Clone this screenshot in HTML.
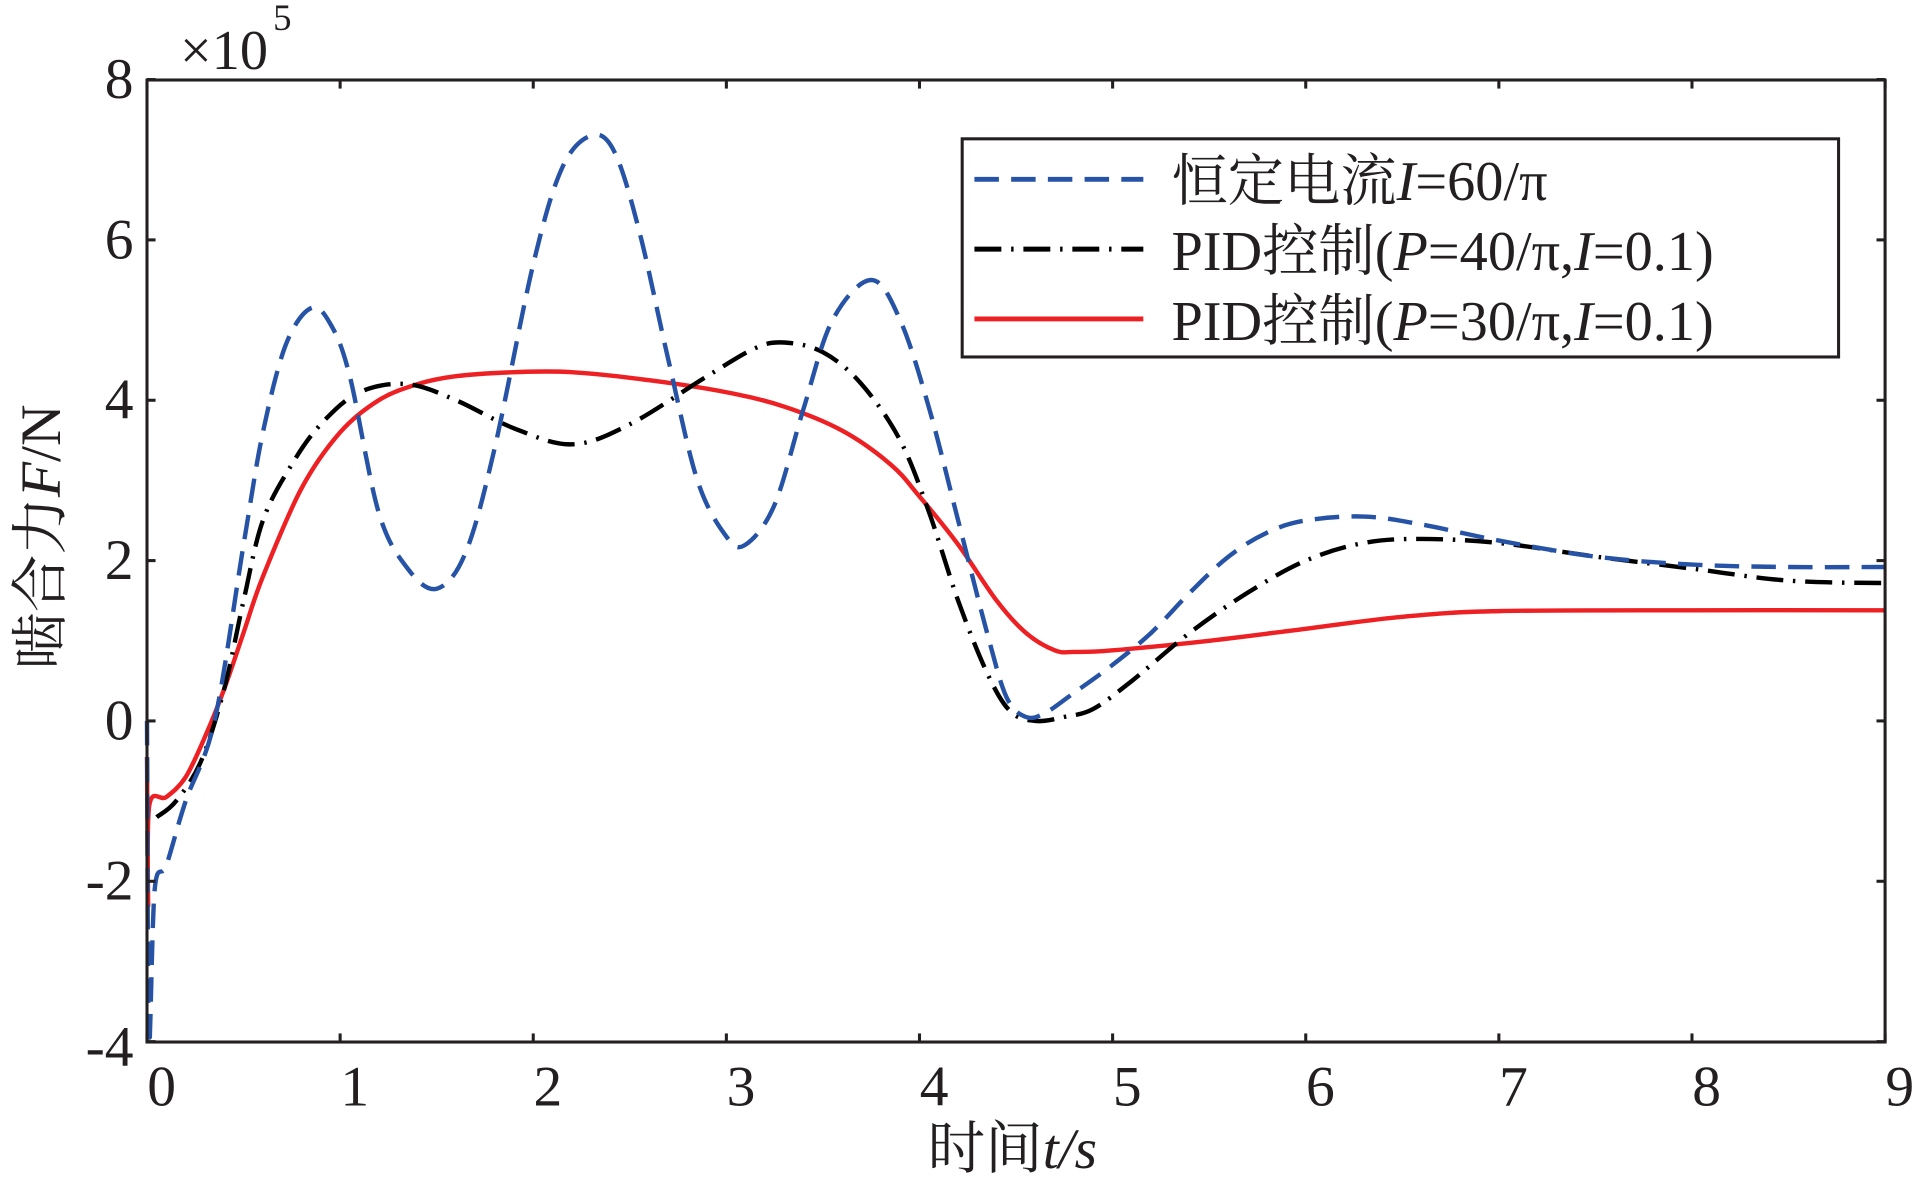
<!DOCTYPE html>
<html><head><meta charset="utf-8">
<style>
html,body{margin:0;padding:0;background:#fff;}
svg{display:block;}
text{font-family:"Liberation Serif","Noto Serif CJK SC",serif;fill:#231f20;}
</style></head>
<body>
<svg id="s" width="1916" height="1188" viewBox="0 0 1916 1188" xmlns="http://www.w3.org/2000/svg">
<g id="g" transform="translate(147,80) scale(1.224,1.2255) translate(-121,-67)">
</g>
</svg>
<script>
const g=document.getElementById('g');
const NS='http://www.w3.org/2000/svg';
function X(t){return 121+t*157.78;}
function Y(v){return 590-v*65.42;}
function el(tag,attrs,txt){const e=document.createElementNS(NS,tag);for(const k in attrs)e.setAttribute(k,attrs[k]);if(txt!==undefined)e.textContent=txt;g.appendChild(e);return e;}
function path(pts){
  const P=pts.map(p=>[X(p[0]),Y(p[1])]);
  let d='M'+P[0][0].toFixed(1)+','+P[0][1].toFixed(1);
  for(let i=0;i<P.length-1;i++){
    const p0=P[Math.max(0,i-1)],p1=P[i],p2=P[i+1],p3=P[Math.min(P.length-1,i+2)];
    const c1=[p1[0]+(p2[0]-p0[0])/6,p1[1]+(p2[1]-p0[1])/6];
    const c2=[p2[0]-(p3[0]-p1[0])/6,p2[1]-(p3[1]-p1[1])/6];
    d+=' C'+c1[0].toFixed(1)+','+c1[1].toFixed(1)+' '+c2[0].toFixed(1)+','+c2[1].toFixed(1)+' '+p2[0].toFixed(1)+','+p2[1].toFixed(1);
  }
  return d;
}
const blue=[[0,0],[0.01,-4],[0.04,-2.1],[0.1,-1.8],[0.2,-1.0],[0.35,0],[0.5,2.2],[0.6,3.6],[0.72,4.7],[0.85,5.15],[0.95,4.95],[1.05,4.3],[1.2,2.6],[1.35,1.9],[1.5,1.65],[1.65,2.1],[1.8,3.4],[2.0,5.7],[2.15,6.9],[2.3,7.3],[2.42,7.1],[2.55,6.1],[2.7,4.5],[2.85,3.0],[3.0,2.3],[3.1,2.2],[3.25,2.7],[3.4,3.9],[3.55,5.0],[3.75,5.5],[3.9,5.0],[4.05,3.9],[4.2,2.5],[4.35,1.1],[4.45,0.3],[4.55,0.05],[4.65,0.1],[4.8,0.35],[5.0,0.7],[5.2,1.1],[5.4,1.6],[5.6,2.05],[5.8,2.35],[6.0,2.5],[6.3,2.55],[6.6,2.45],[7.0,2.25],[7.5,2.05],[8.0,1.95],[8.5,1.92],[9,1.92]];
const black=[[0.05,-1.2],[0.15,-1.0],[0.28,-0.5],[0.4,0.4],[0.5,1.5],[0.6,2.5],[0.75,3.2],[0.9,3.7],[1.1,4.1],[1.35,4.2],[1.6,4.0],[1.9,3.65],[2.2,3.45],[2.5,3.7],[2.9,4.3],[3.15,4.65],[3.3,4.72],[3.5,4.6],[3.7,4.2],[3.9,3.5],[4.05,2.6],[4.2,1.5],[4.35,0.6],[4.47,0.12],[4.6,0.0],[4.75,0.05],[4.9,0.15],[5.1,0.5],[5.4,1.1],[5.7,1.6],[6.0,2.0],[6.3,2.22],[6.6,2.27],[7.0,2.22],[7.5,2.05],[8.0,1.9],[8.5,1.75],[9.0,1.72]];
const red=[[0,-0.45],[0.006,-2.3],[0.012,-1.05],[0.1,-0.95],[0.2,-0.7],[0.3,-0.2],[0.4,0.4],[0.5,1.1],[0.6,1.8],[0.8,2.9],[1.0,3.6],[1.2,4.0],[1.4,4.2],[1.6,4.3],[1.9,4.35],[2.2,4.35],[2.6,4.25],[3.0,4.1],[3.3,3.92],[3.6,3.62],[3.85,3.2],[4.0,2.8],[4.2,2.2],[4.4,1.5],[4.55,1.1],[4.7,0.88],[4.8,0.86],[5.0,0.88],[5.5,1.0],[6.0,1.15],[6.5,1.3],[7.0,1.37],[8.0,1.38],[9.0,1.38]];
el('path',{d:path(red),fill:'none',stroke:'#ed2024','stroke-width':3.6});
el('path',{d:path(black),fill:'none',stroke:'#000','stroke-width':3.6,'stroke-dasharray':'22 8 2 8'});
el('path',{d:path(blue),fill:'none',stroke:'#2653a5','stroke-width':3.6,'stroke-dasharray':'20 10'});
el('rect',{x:121,y:67,width:1420,height:785,fill:'none',stroke:'#231f20','stroke-width':2.5});
for(let i=0;i<=9;i++){const x=X(i);
 el('line',{x1:x,y1:852,x2:x,y2:845,stroke:'#231f20','stroke-width':2.5});
 el('line',{x1:x,y1:67,x2:x,y2:74,stroke:'#231f20','stroke-width':2.5});
 el('text',{x:x+12,y:904,'font-size':47,'text-anchor':'middle'},String(i));}
for(let v=-4;v<=8;v+=2){const y=Y(v);
 el('line',{x1:121,y1:y,x2:128,y2:y,stroke:'#231f20','stroke-width':2.5});
 el('line',{x1:1541,y1:y,x2:1534,y2:y,stroke:'#231f20','stroke-width':2.5});
 el('text',{x:110,y:(v==-4?y+20:y+15),'font-size':47,'text-anchor':'end'},String(v));}
el('text',{x:148,y:58,'font-size':46},'×10');
el('text',{x:224,y:26,'font-size':30},'5');
const xl=el('text',{x:828,y:955,'font-size':47,'text-anchor':'middle'});
xl.innerHTML='时间<tspan font-style="italic">t/s</tspan>';
const yl=el('text',{x:0,y:0,'font-size':47,'text-anchor':'middle',transform:'translate(50,440) rotate(-90)'});
yl.innerHTML='啮合力<tspan font-style="italic">F</tspan>/N';
el('rect',{x:787,y:115,width:716,height:178,fill:'#fff',stroke:'#231f20','stroke-width':2.5});
el('line',{x1:797,y1:148,x2:935,y2:148,stroke:'#2653a5','stroke-width':4,'stroke-dasharray':'20 10'});
el('line',{x1:797,y1:205,x2:935,y2:205,stroke:'#000','stroke-width':4,'stroke-dasharray':'22 8 2 8'});
el('line',{x1:797,y1:262,x2:935,y2:262,stroke:'#ed2024','stroke-width':4});
const t1=el('text',{x:958,y:165,'font-size':46});t1.innerHTML='恒定电流<tspan font-style="italic">I</tspan>=60/π';
const t2=el('text',{x:958,y:222,'font-size':46});t2.innerHTML='PID控制(<tspan font-style="italic">P</tspan>=40/π,<tspan font-style="italic">I</tspan>=0.1)';
const t3=el('text',{x:958,y:279,'font-size':46});t3.innerHTML='PID控制(<tspan font-style="italic">P</tspan>=30/π,<tspan font-style="italic">I</tspan>=0.1)';
</script>
</body></html>
